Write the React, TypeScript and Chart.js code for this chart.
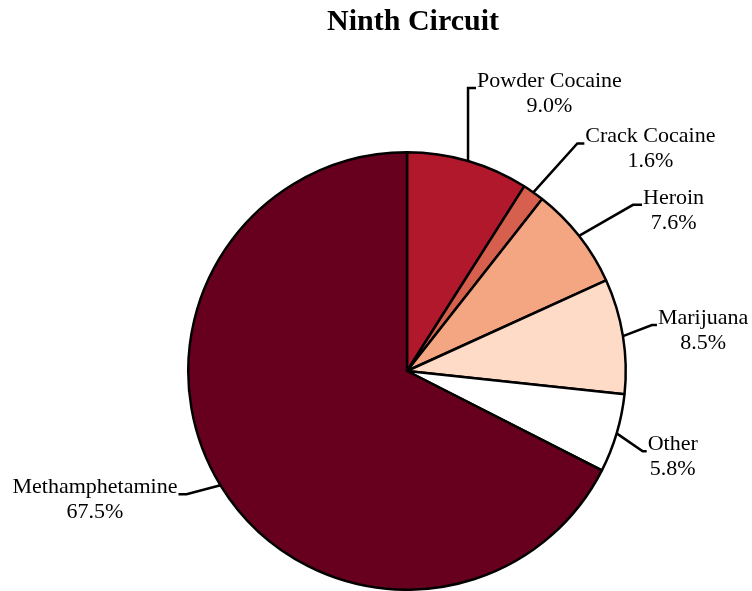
import React, { useEffect, useRef } from "react";
import { Chart, registerables } from "chart.js";

Chart.register(...registerables);

const categories = ["Powder Cocaine", "Crack Cocaine", "Heroin", "Marijuana", "Other", "Methamphetamine"];
const shares = [9.0, 1.6, 7.6, 8.5, 5.8, 67.5];
const sliceColors = ["#B2182B", "#D6604D", "#F4A582", "#FDDBC7", "#FFFFFF", "#67001F"];
const chartTitle = "Ninth Circuit";

// leader line elbows relative to slice edge (dx, dy) and horizontal tail length
const leaderElbows = [
  [0, -73, 8],
  [44, -49, 7],
  [54, -31, 9],
  [29, -11, 5],
  [26, 18, 4],
  [-34, 9, -8],
];

const FONT = "'Liberation Serif', 'Times New Roman', serif";

const labelPlugin = {
  id: "leaderLabels",
  afterDatasetsDraw(chart: any) {
    const ctx = chart.ctx;
    const meta = chart.getDatasetMeta(0);
    ctx.save();
    ctx.strokeStyle = "#000";
    ctx.lineWidth = 2.5;
    ctx.fillStyle = "#000";
    ctx.font = `22px ${FONT}`;
    ctx.textBaseline = "middle";
    ctx.textAlign = "center";
    meta.data.forEach((arc: any, i: number) => {
      const p = arc.getProps(["x", "y", "startAngle", "endAngle", "outerRadius"], true);
      const mid = (p.startAngle + p.endAngle) / 2;
      const ex = p.x + Math.cos(mid) * p.outerRadius;
      const ey = p.y + Math.sin(mid) * p.outerRadius;
      const [dx, dy, h] = leaderElbows[i];
      const bx = ex + dx;
      const by = ey + dy;
      const tx = bx + h;
      ctx.beginPath();
      ctx.moveTo(ex, ey);
      ctx.lineTo(bx, by);
      ctx.lineTo(tx, by);
      ctx.stroke();
      const name = categories[i];
      const pct = shares[i].toFixed(1) + "%";
      const w = ctx.measureText(name).width;
      const cx = h >= 0 ? tx + 1 + w / 2 : tx - 1 - w / 2;
      ctx.fillText(name, cx, by - 7);
      ctx.fillText(pct, cx, by + 18);
    });
    ctx.font = `bold 30px ${FONT}`;
    ctx.fillText(chartTitle, 413, 22);
    ctx.restore();
  },
};

export default function App() {
  const ref = useRef<HTMLCanvasElement>(null);
  useEffect(() => {
    if (!ref.current) return;
    const chart = new Chart(ref.current, {
      type: "pie",
      data: {
        labels: categories,
        datasets: [
          {
            data: shares,
            backgroundColor: sliceColors,
            borderColor: "#000",
            borderWidth: 2.5,
          },
        ],
      },
      options: {
        responsive: false,
        animation: false,
        layout: { padding: { top: 151, bottom: 0, left: 187, right: 125 } },
        plugins: {
          legend: { display: false },
          tooltip: { enabled: false },
          title: { display: false },
        },
      },
      plugins: [labelPlugin],
    });
    return () => chart.destroy();
  }, []);
  return (
    <div style={{ position: "fixed", left: 0, top: 0, width: 752, height: 591, background: "#fff" }}>
      <canvas ref={ref} width={752} height={591} />
    </div>
  );
}
